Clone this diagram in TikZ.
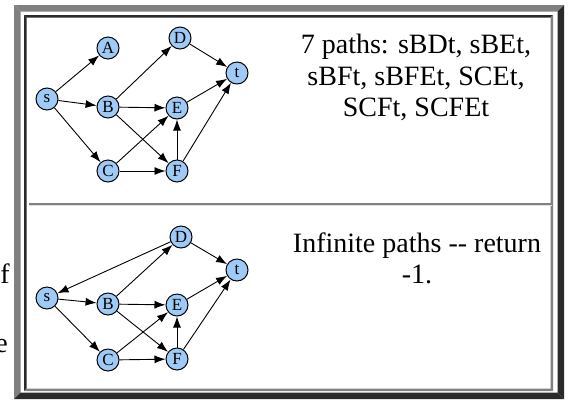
\documentclass[tikz,border=0pt]{standalone}
\usepackage{fontspec}
\setmainfont{Liberation Serif}
\usetikzlibrary{arrows.meta}
\definecolor{nodeblue}{RGB}{158,202,245}
\definecolor{bordergray}{RGB}{128,128,128}
\definecolor{borderdark}{RGB}{42,42,42}
\definecolor{hrlight}{RGB}{225,225,225}
\begin{document}
\begin{tikzpicture}[x=1pt,y=-1pt,
  gnode/.style={circle,draw=black,line width=1pt,fill=nodeblue,minimum size=22pt,inner sep=0pt,font=\fontsize{17}{17}\selectfont},
  conn/.style={-{Latex[length=11pt,width=8pt]},line width=0.9pt,black},
  bigtext/.style={anchor=base,inner sep=0pt,font=\fontsize{28}{32}\selectfont},
  cut/.style={inner sep=0pt,font=\fontsize{28}{32}\selectfont}]
\useasboundingbox (0,0) rectangle (569,400);
\fill[white] (0,0) rectangle (569,400);
% outer border (outset)
\fill[bordergray] (14,5) -- (564,5) -- (557.5,11.5) -- (20.5,11.5) -- cycle;
\fill[bordergray] (14,5) -- (20.5,11.5) -- (20.5,392.5) -- (14,399) -- cycle;
\fill[borderdark] (564,5) -- (564,399) -- (557.5,392.5) -- (557.5,11.5) -- cycle;
\fill[borderdark] (14,399) -- (564,399) -- (557.5,392.5) -- (20.5,392.5) -- cycle;
% inner border (inset)
\fill[borderdark] (24,15) -- (553,15) -- (550.5,17.5) -- (26.5,17.5) -- cycle;
\fill[borderdark] (24,15) -- (26.5,17.5) -- (26.5,388.5) -- (24,391) -- cycle;
\fill[bordergray] (553,15) -- (553,391) -- (550.5,388.5) -- (550.5,17.5) -- cycle;
\fill[bordergray] (24,391) -- (553,391) -- (550.5,388.5) -- (26.5,388.5) -- cycle;
% horizontal rule
\fill[bordergray] (29,202.5) rectangle (552,204.5);
\fill[hrlight] (29,204.5) rectangle (552,206);
% cut-off letters at the left edge
\node[cut,anchor=base east] (lf) at (10,283) {f};
\node[cut,anchor=base east] (le) at (8,352) {e};
% top graph
\node[gnode] (s1) at (47,99) {s};
\node[gnode] (A1) at (108,48) {A};
\node[gnode] (D1) at (180,38) {D};
\node[gnode] (t1) at (237,73) {t};
\node[gnode] (B1) at (108,107) {B};
\node[gnode] (E1) at (177,108) {E};
\node[gnode] (C1) at (108,171) {C};
\node[gnode] (F1) at (177,171) {F};
\draw[conn] (s1) -- (A1);
\draw[conn] (s1) -- (B1);
\draw[conn] (s1) -- (C1);
\draw[conn] (B1) -- (D1);
\draw[conn] (B1) -- (E1);
\draw[conn] (B1) -- (F1);
\draw[conn] (C1) -- (E1);
\draw[conn] (C1) -- (F1);
\draw[conn] (D1) -- (t1);
\draw[conn] (E1) -- (t1);
\draw[conn] (F1) -- (E1);
\draw[conn] (F1) -- (t1);
% top text
\node[bigtext] (l1) at (416,53) {7 paths: sBDt, sBEt,};
\node[bigtext] (l2) at (416,85) {sBFt, sBFEt, SCEt,};
\node[bigtext] (l3) at (416,116) {SCFt, SCFEt};
% bottom graph
\node[gnode] (s2) at (47,298) {s};
\node[gnode] (D2) at (181,237) {D};
\node[gnode] (t2) at (237,270) {t};
\node[gnode] (B2) at (108,304) {B};
\node[gnode] (E2) at (177,305) {E};
\node[gnode] (C2) at (108,360) {C};
\node[gnode] (F2) at (177,359) {F};
\draw[conn] (D2) -- (s2);
\draw[conn] (s2) -- (B2);
\draw[conn] (s2) -- (C2);
\draw[conn] (B2) -- (D2);
\draw[conn] (B2) -- (E2);
\draw[conn] (B2) -- (F2);
\draw[conn] (C2) -- (E2);
\draw[conn] (C2) -- (F2);
\draw[conn] (D2) -- (t2);
\draw[conn] (E2) -- (t2);
\draw[conn] (F2) -- (E2);
\draw[conn] (F2) -- (t2);
% bottom text
\node[bigtext] (m1) at (417,252) {Infinite paths -\kern0pt- return};
\node[bigtext] (m2) at (417,283) {-1.};
\end{tikzpicture}
\end{document}
